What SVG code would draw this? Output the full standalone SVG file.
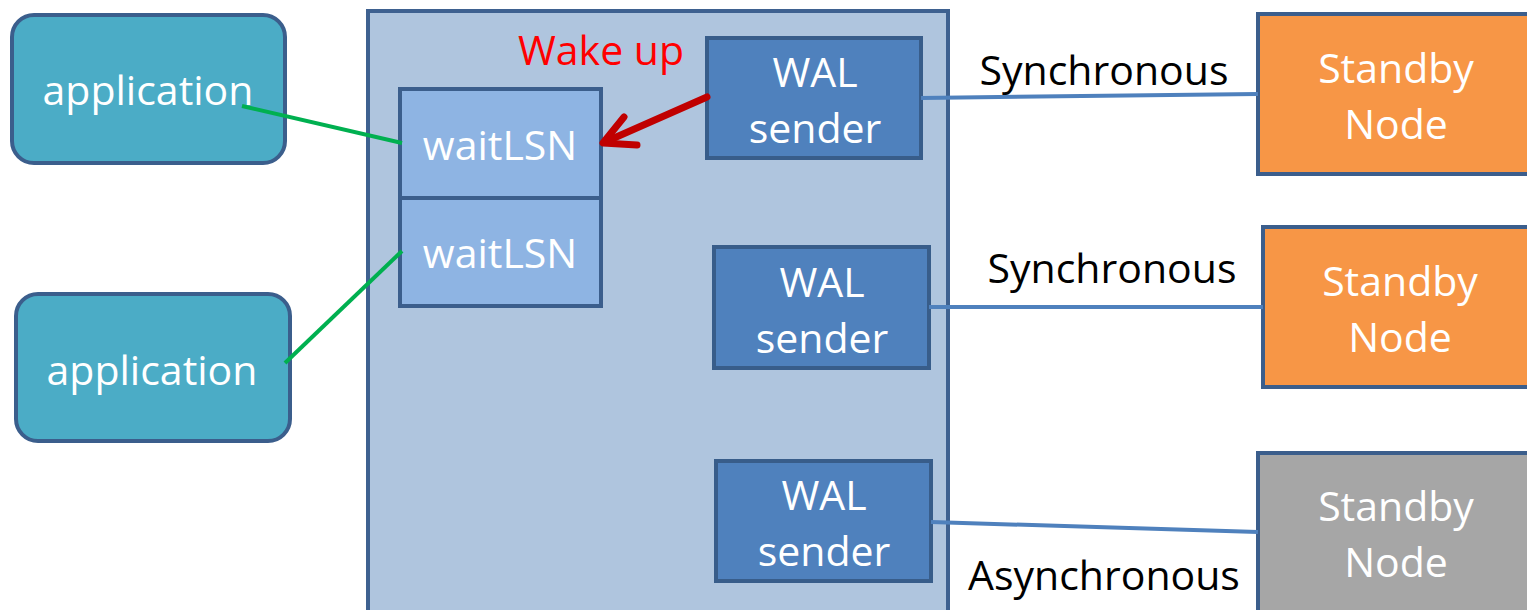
<svg xmlns="http://www.w3.org/2000/svg" width="1527" height="610" viewBox="0 0 1527 610">
<style>
text{font-family:"Open Sans","Noto Sans",sans-serif;font-size:41px;text-anchor:middle}
.w{fill:#ffffff}
.k{fill:#000000}
.app{fill:#4BACC6;stroke:#3B5E8C;stroke-width:4}
.wait{fill:#8EB4E3;stroke:#3B5E8C;stroke-width:4}
.wal{fill:#4F81BD;stroke:#385D8A;stroke-width:4}
.sb{fill:#F79646;stroke:#3B5E8C;stroke-width:4}
.sbg{fill:#A6A6A6;stroke:#3B5E8C;stroke-width:4}
.blue{stroke:#4F81BD;stroke-width:4;fill:none}
.green{stroke:#00B050;stroke-width:4;fill:none}
</style>
<rect width="1527" height="610" fill="#ffffff"/>
<g id="primary">
<rect x="368" y="11" width="580" height="620" fill="#AFC5DE" stroke="#3E6190" stroke-width="4"/>
</g>
<g id="app1">
<rect class="app" x="12" y="15" width="273" height="148" rx="22"/>
<text class="w" x="148" y="105">application</text>
</g>
<g id="app2">
<rect class="app" x="16" y="294" width="274" height="147" rx="22"/>
<text class="w" x="152" y="385">application</text>
</g>
<g id="wait1">
<rect class="wait" x="400" y="89" width="201" height="109"/>
<text class="w" x="500" y="160">waitLSN</text>
</g>
<g id="wait2">
<rect class="wait" x="400" y="198" width="201" height="108"/>
<text class="w" x="500" y="268">waitLSN</text>
</g>
<g id="wal1">
<rect class="wal" x="707" y="38" width="214" height="120"/>
<text class="w" x="815" y="87">WAL</text>
<text class="w" x="815" y="143">sender</text>
</g>
<g id="wal2">
<rect class="wal" x="714" y="247" width="215" height="121"/>
<text class="w" x="822" y="297">WAL</text>
<text class="w" x="822" y="353">sender</text>
</g>
<g id="wal3">
<rect class="wal" x="716" y="461" width="215" height="120"/>
<text class="w" x="824" y="510">WAL</text>
<text class="w" x="824" y="566">sender</text>
</g>
<g id="standby1">
<rect class="sb" x="1258" y="14" width="290" height="160"/>
<text class="w" x="1396" y="83">Standby</text>
<text class="w" x="1396" y="139">Node</text>
</g>
<g id="standby2">
<rect class="sb" x="1263" y="227" width="290" height="160"/>
<text class="w" x="1400" y="296">Standby</text>
<text class="w" x="1400" y="352">Node</text>
</g>
<g id="standby3">
<rect class="sbg" x="1258" y="453" width="290" height="180"/>
<text class="w" x="1396" y="521">Standby</text>
<text class="w" x="1396" y="577">Node</text>
</g>
<g id="connectors">
<line class="green" x1="242" y1="106" x2="402" y2="143"/>
<line class="green" x1="285" y1="363" x2="402" y2="251"/>
<line class="blue" x1="921" y1="98" x2="1258" y2="94"/>
<line class="blue" x1="929" y1="307" x2="1263" y2="307"/>
<line class="blue" x1="931" y1="522" x2="1258" y2="532"/>
<g stroke="#C00000" stroke-width="7" fill="none" stroke-linecap="round" stroke-linejoin="round">
<line x1="707" y1="97" x2="605" y2="142"/>
<polyline points="624,117 603,143 637,145"/>
</g>
<text class="k" x="1104" y="85">Synchronous</text>
<text class="k" x="1112" y="283">Synchronous</text>
<text class="k" x="1104" y="590">Asynchronous</text>
<text x="601" y="65" fill="#FF0000">Wake up</text>
</g>
</svg>
